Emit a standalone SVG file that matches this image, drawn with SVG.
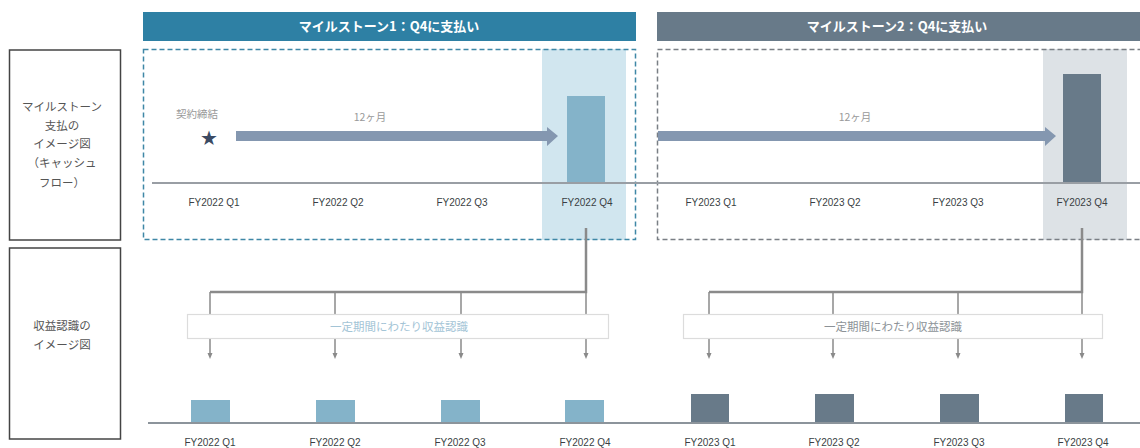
<svg xmlns="http://www.w3.org/2000/svg" width="1140" height="448" viewBox="0 0 1140 448">
<defs>
<style>
.jp{font-family:"Noto Sans CJK JP","Noto Sans",sans-serif;}
.q{font-family:"Liberation Sans","Noto Sans",sans-serif;font-size:10px;fill:#3a3f44;text-anchor:middle;}
.hdr{font-family:"Noto Sans CJK JP",sans-serif;font-size:13px;font-weight:bold;fill:#ffffff;text-anchor:middle;}
.side{font-family:"Noto Sans CJK JP",sans-serif;font-size:11.5px;fill:#555;text-anchor:middle;}
.sidebox{fill:#fff;stroke:#444;stroke-width:1.5;}
.conn{stroke:#8a8a8a;fill:none;}
.lb{fill:#3a3f44;}
.db{fill:#687a89;}
</style>
<marker id="ah" viewBox="0 0 6 6" refX="3" refY="3" markerWidth="6" markerHeight="6" markerUnits="userSpaceOnUse" orient="auto">
<path d="M0,0.5 L6,3 L0,5.5 Z" fill="#8a8a8a"/>
</marker>
</defs>
<rect width="1140" height="448" fill="#fff"/>

<g id="side-cashflow">
<rect class="sidebox" x="9.5" y="50" width="111" height="190"/>
<text class="side" x="62" y="111">マイルストーン</text>
<text class="side" x="62" y="130">支払の</text>
<text class="side" x="62" y="148">イメージ図</text>
<text class="side" x="62" y="167">（キャッシュ</text>
<text class="side" x="62" y="187">フロー）</text>
</g>
<g id="side-revenue">
<rect class="sidebox" x="9.5" y="248" width="111" height="191"/>
<text class="side" x="62" y="330">収益認識の</text>
<text class="side" x="62" y="349">イメージ図</text>
</g>

<g id="milestone1">
<rect x="143" y="12" width="493" height="29" fill="#2e80a4"/>
<text class="hdr" x="389" y="31">マイルストーン1：Q4に支払い</text>
<rect x="542" y="49" width="84" height="191" fill="#d1e6ef"/>
<rect x="143.5" y="49.5" width="492" height="190" fill="none" stroke="#3f87a6" stroke-width="1.5" stroke-dasharray="5,3"/>
<rect x="567" y="96" width="38" height="87" fill="#84b3c9"/>
</g>

<g id="milestone2">
<rect x="657" y="12" width="483" height="29" fill="#687a89"/>
<text class="hdr" x="897" y="31">マイルストーン2：Q4に支払い</text>
<rect x="1043" y="49" width="84" height="191" fill="#dde2e6"/>
<rect x="657.5" y="49.5" width="490" height="190" fill="none" stroke="#7a7f85" stroke-width="1.5" stroke-dasharray="5,3"/>
<rect x="1063" y="74" width="38" height="109" fill="#687a89"/>
</g>

<g id="timeline-top">
<line x1="152" y1="183" x2="1140" y2="183" stroke="#999ea4" stroke-width="2"/>
<text class="q" x="214" y="206">FY2022 Q1</text>
<text class="q" x="338" y="206">FY2022 Q2</text>
<text class="q" x="462" y="206">FY2022 Q3</text>
<text class="q" x="587" y="206">FY2022 Q4</text>
<text class="q" x="711" y="206">FY2023 Q1</text>
<text class="q" x="835" y="206">FY2023 Q2</text>
<text class="q" x="958" y="206">FY2023 Q3</text>
<text class="q" x="1082" y="206">FY2023 Q4</text>
</g>

<g id="contract">
<text class="jp" x="197" y="118" font-size="10.5" fill="#999" text-anchor="middle">契約締結</text>
<text x="209" y="145" font-family="DejaVu Sans,sans-serif" font-size="20" fill="#3b4a63" text-anchor="middle">★</text>
</g>

<g id="period-arrows">
<path d="M236,131 H547 V127 L558,136 L547,146 V141 H236 Z" fill="#8497b0"/>
<text class="jp" x="370" y="121" font-size="10.5" fill="#999" text-anchor="middle">12ヶ月</text>
<path d="M658,131 H1045 V127 L1056,136 L1045,146 V141 H658 Z" fill="#8497b0"/>
<text class="jp" x="855" y="121" font-size="10.5" fill="#999" text-anchor="middle">12ヶ月</text>
</g>

<g id="connectors">
<path class="conn" stroke-width="2.5" d="M586,228 V292 H210"/>
<path class="conn" stroke-width="1.5" d="M210,292 V356" marker-end="url(#ah)"/>
<path class="conn" stroke-width="1.5" d="M335,292 V356" marker-end="url(#ah)"/>
<path class="conn" stroke-width="1.5" d="M461,292 V356" marker-end="url(#ah)"/>
<path class="conn" stroke-width="1.5" d="M586,292 V356" marker-end="url(#ah)"/>
<path class="conn" stroke-width="2.5" d="M1082,228 V292 H709"/>
<path class="conn" stroke-width="1.5" d="M709,292 V356" marker-end="url(#ah)"/>
<path class="conn" stroke-width="1.5" d="M833,292 V356" marker-end="url(#ah)"/>
<path class="conn" stroke-width="1.5" d="M958,292 V356" marker-end="url(#ah)"/>
<path class="conn" stroke-width="1.5" d="M1082,292 V356" marker-end="url(#ah)"/>
</g>

<g id="recog1">
<rect x="187.5" y="314.5" width="421" height="24" fill="#fff" stroke="#dcdcdc" stroke-width="1.2"/>
<text class="jp" x="399" y="331" font-size="11.5" fill="#a3c4d6" text-anchor="middle">一定期間にわたり収益認識</text>
</g>
<g id="recog2">
<rect x="683.5" y="314.5" width="419" height="24" fill="#fff" stroke="#dcdcdc" stroke-width="1.2"/>
<text class="jp" x="893" y="331" font-size="11.5" fill="#8c9297" text-anchor="middle">一定期間にわたり収益認識</text>
</g>

<g id="revenue-bars">
<rect x="191" y="400" width="39" height="23" fill="#84b3c9"/>
<rect x="316" y="400" width="39" height="23" fill="#84b3c9"/>
<rect x="441" y="400" width="39" height="23" fill="#84b3c9"/>
<rect x="565" y="400" width="39" height="23" fill="#84b3c9"/>
<rect x="691" y="394" width="38" height="29" fill="#687a89"/>
<rect x="815" y="394" width="39" height="29" fill="#687a89"/>
<rect x="940" y="394" width="39" height="29" fill="#687a89"/>
<rect x="1065" y="394" width="38" height="29" fill="#687a89"/>
<line x1="148" y1="423" x2="1140" y2="423" stroke="#8c949b" stroke-width="2"/>
<text class="q" x="210" y="446">FY2022 Q1</text>
<text class="q" x="335" y="446">FY2022 Q2</text>
<text class="q" x="460" y="446">FY2022 Q3</text>
<text class="q" x="585" y="446">FY2022 Q4</text>
<text class="q" x="710" y="446">FY2023 Q1</text>
<text class="q" x="834" y="446">FY2023 Q2</text>
<text class="q" x="959" y="446">FY2023 Q3</text>
<text class="q" x="1083" y="446">FY2023 Q4</text>
</g>
</svg>
